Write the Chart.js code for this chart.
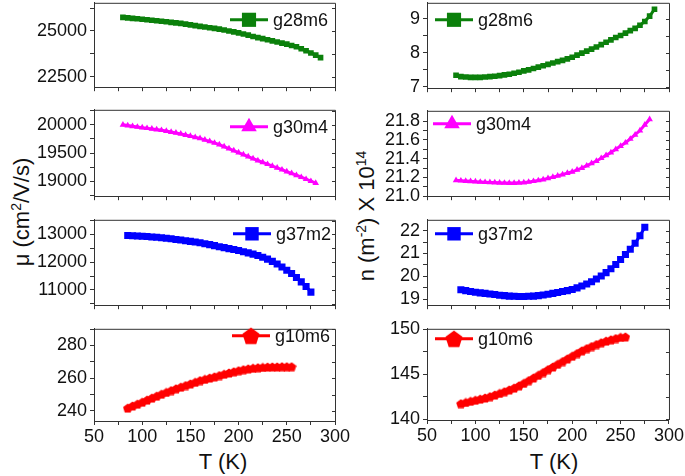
<!DOCTYPE html>
<html>
<head>
<meta charset="utf-8">
<script src="https://cdn.jsdelivr.net/npm/chart.js@4.4.1/dist/chart.umd.min.js"></script>
<style>
  body { margin: 0; background: #fff; }
  #fig { position: relative; width: 685px; height: 476px; overflow: hidden;
         font-family: "Liberation Sans", Arial, sans-serif; color: #111; }
  #fig canvas { position: absolute; }
  .title { position: absolute; font-size: 22px; white-space: nowrap; line-height: 1; }
  .rot { transform: translate(-50%, -50%) rotate(-90deg); }
  .mid { transform: translate(-50%, -50%); }
  .title sup { font-size: 14px; vertical-align: 0.6em; line-height: 0; }
</style>
</head>
<body>
<div id="fig">
  <div class="title rot" style="left:22px;top:212px">μ (cm<sup>2</sup>/V/s)</div>
  <div class="title rot" style="left:367px;top:216px">n (m<sup>-2</sup>) X 10<sup>14</sup></div>
  <div class="title mid" style="left:223px;top:462px">T (K)</div>
  <div class="title mid" style="left:554px;top:462px">T (K)</div>
</div>
<script>
// temperatures (K) for each sample
const T_G28 = [80, 85, 90, 95, 100, 105, 110, 115, 120, 125, 130, 135, 140, 145, 150, 155, 160, 165, 170, 175,
  180, 185, 190, 195, 200, 205, 210, 215, 220, 225, 230, 235, 240, 245, 250, 255, 260, 265, 270, 275, 280, 285];
const T_G30 = [80, 85, 90, 95, 100, 105, 110, 115, 120, 125, 130, 135, 140, 145, 150, 155, 160, 165, 170, 175,
  180, 185, 190, 195, 200, 205, 210, 215, 220, 225, 230, 235, 240, 245, 250, 255, 260, 265, 270, 275, 280];
const T_G37 = [85, 90, 95, 100, 105, 110, 115, 120, 125, 130, 135, 140, 145, 150, 155, 160, 165, 170, 175,
  180, 185, 190, 195, 200, 205, 210, 215, 220, 225, 230, 235, 240, 245, 250, 255, 260, 265, 270, 275];
const T_G10 = [85, 90, 95, 100, 105, 110, 115, 120, 125, 130, 135, 140, 145, 150, 155, 160, 165, 170, 175,
  180, 185, 190, 195, 200, 205, 210, 215, 220, 225, 230, 235, 240, 245, 250, 255];

// mobility, cm2/V/s
const MU_G28 = [25740, 25715, 25690, 25665, 25640, 25612, 25585, 25558, 25530, 25500, 25470, 25440, 25410,
  25370, 25330, 25290, 25250, 25215, 25175, 25140, 25100, 25050, 25000, 24950, 24900, 24835, 24770, 24700,
  24640, 24580, 24520, 24460, 24400, 24340, 24280, 24210, 24140, 24030, 23920, 23800, 23680, 23550];
const MU_G30 = [20000, 19988, 19975, 19962, 19950, 19940, 19928, 19917, 19905, 19890, 19873, 19857, 19840,
  19820, 19800, 19780, 19760, 19735, 19707, 19680, 19650, 19615, 19580, 19545, 19510, 19475, 19440, 19405,
  19370, 19338, 19305, 19272, 19240, 19208, 19175, 19142, 19110, 19075, 19040, 19005, 18970];
const MU_G37 = [12965, 12957, 12948, 12938, 12925, 12912, 12897, 12880, 12862, 12843, 12822, 12800, 12776,
  12752, 12727, 12700, 12667, 12633, 12597, 12560, 12525, 12490, 12455, 12420, 12378, 12335, 12290, 12240,
  12180, 12110, 12030, 11935, 11825, 11710, 11590, 11450, 11290, 11120, 10920];
const MU_G10 = [241.7, 243.0, 244.1, 245.3, 246.6, 247.8, 249.0, 250.2, 251.3, 252.4, 253.5, 254.5, 255.5,
  256.5, 257.5, 258.5, 259.3, 260.1, 260.8, 261.6, 262.4, 263.2, 263.9, 264.6, 265.2, 265.7, 266.1, 266.4,
  266.6, 266.8, 266.9, 266.9, 267.0, 267.0, 267.0];

// carrier density, 1e14 m^-2
const N_G28 = [7.34, 7.30, 7.29, 7.28, 7.28, 7.28, 7.29, 7.30, 7.31, 7.33, 7.35, 7.37, 7.40, 7.43, 7.47,
  7.50, 7.54, 7.58, 7.62, 7.66, 7.70, 7.74, 7.78, 7.82, 7.87, 7.93, 7.99, 8.05, 8.11, 8.17, 8.24, 8.31,
  8.38, 8.45, 8.51, 8.58, 8.65, 8.72, 8.81, 8.92, 9.08, 9.28];
const N_G30 = [21.170, 21.165, 21.161, 21.158, 21.155, 21.152, 21.149, 21.147, 21.145, 21.143, 21.141,
  21.140, 21.140, 21.142, 21.146, 21.152, 21.160, 21.168, 21.178, 21.190, 21.203, 21.217, 21.231, 21.246,
  21.260, 21.280, 21.300, 21.325, 21.350, 21.375, 21.405, 21.435, 21.465, 21.500, 21.535, 21.570, 21.610,
  21.655, 21.700, 21.760, 21.820];
const N_G37 = [19.41, 19.37, 19.33, 19.30, 19.27, 19.25, 19.22, 19.20, 19.17, 19.15, 19.13, 19.12, 19.11,
  19.11, 19.12, 19.13, 19.15, 19.18, 19.21, 19.25, 19.29, 19.33, 19.37, 19.42, 19.49, 19.57, 19.66, 19.76,
  19.88, 20.01, 20.16, 20.33, 20.52, 20.74, 20.96, 21.19, 21.45, 21.78, 22.15];
const N_G10 = [141.72, 141.85, 141.98, 142.10, 142.23, 142.35, 142.50, 142.68, 142.86, 143.05, 143.25,
  143.45, 143.70, 143.98, 144.28, 144.58, 144.88, 145.18, 145.50, 145.80, 146.10, 146.40, 146.70, 147.00,
  147.30, 147.60, 147.85, 148.08, 148.30, 148.50, 148.68, 148.83, 148.97, 149.10, 149.15];

// ticks (every tick mark; only the "major" ones get a label)
const X_TICKS = [50, 75, 100, 125, 150, 175, 200, 225, 250, 275, 300];
const MU1_TICKS = [22500, 23750, 25000, 26250];
const MU2_TICKS = [18750, 19000, 19250, 19500, 19750, 20000, 20250];
const MU3_TICKS = [10500, 11000, 11500, 12000, 12500, 13000, 13500];
const MU4_TICKS = [240, 250, 260, 270, 280, 290];
const N1_TICKS = [7, 7.5, 8, 8.5, 9];
const N2_TICKS = [21.0, 21.1, 21.2, 21.3, 21.4, 21.5, 21.6, 21.7, 21.8];
const N3_TICKS = [19, 19.5, 20, 20.5, 21, 21.5, 22];
const N4_TICKS = [140, 142.5, 145, 147.5, 150];

const GREEN = '#0b800b', MAGENTA = '#ff00ff', BLUE = '#0000ff', RED = '#ff0000';

Chart.defaults.font.family = '"Liberation Sans", Arial, sans-serif';
Chart.defaults.color = '#111';

function pentagon(size, color) {
  const c = document.createElement('canvas');
  c.width = c.height = size;
  const g = c.getContext('2d');
  const r = size / 2;
  const cy = r + (r - r * Math.cos(Math.PI / 5)) / 2;
  g.fillStyle = color;
  g.beginPath();
  for (let i = 0; i < 5; i++) {
    const a = -Math.PI / 2 + i * 2 * Math.PI / 5;
    g.lineTo(r + r * Math.cos(a), cy + r * Math.sin(a));
  }
  g.closePath();
  g.fill();
  return c;
}
const PENT_S = pentagon(10, RED);
const PENT_L = pentagon(18, RED);

// draws the box frame plus inward ticks on the right edge
const framePlugin = {
  id: 'frame',
  afterDraw(chart) {
    const { ctx, chartArea: a, scales } = chart;
    ctx.save();
    ctx.strokeStyle = '#333';
    ctx.lineWidth = 1;
    ctx.beginPath();
    ctx.moveTo(a.left, a.top + 0.5); ctx.lineTo(a.right + 0.5, a.top + 0.5);
    ctx.lineTo(a.right + 0.5, a.bottom);
    scales.y.ticks.forEach(t => {
      const y = Math.round(scales.y.getPixelForValue(t.value)) + 0.5;
      ctx.moveTo(a.right, y); ctx.lineTo(a.right - 3, y);
    });
    ctx.stroke();
    ctx.restore();
  },
};

// legend entry drawn as line + marker + name
const lineLegend = {
  id: 'lineLegend',
  afterDraw(chart, args, o) {
    const { ctx, chartArea: a } = chart;
    const ds = chart.data.datasets[0];
    const x = a.left + o.x, y = a.top + o.y;
    ctx.save();
    ctx.strokeStyle = ds.borderColor;
    ctx.fillStyle = ds.borderColor;
    ctx.lineWidth = 3;
    ctx.beginPath();
    ctx.moveTo(x, y); ctx.lineTo(x + 38, y);
    ctx.stroke();
    Chart.helpers.drawPoint(ctx, { pointStyle: o.style, radius: o.r, rotation: 0, borderWidth: 0 }, x + 19, y);
    ctx.fillStyle = '#111';
    ctx.font = '18px "Liberation Sans", Arial, sans-serif';
    ctx.textBaseline = 'middle';
    ctx.fillText(ds.label, x + 43, y + 1);
    ctx.restore();
  },
};

const COLS = [
  { left: 0, width: 365, yW: 94, plotR: 335 },
  { left: 345, width: 340, yW: 82, plotR: 669 },
];

const PANELS = [
  { col: 0, top: 1, bottom: 93, T: T_G28, V: MU_G28, color: GREEN, style: 'rect', r: 4, min: 21935, max: 26535,
    ticks: MU1_TICKS, major: 2500, dec: 0, name: 'g28m6', lg: { x: 136, y: 17, style: 'rect', r: 10 } },
  { col: 0, top: 108, bottom: 202, T: T_G30, V: MU_G30, color: MAGENTA, style: 'triangle', r: 3.8, min: 18740, max: 20265,
    ticks: MU2_TICKS, major: 500, dec: 0, name: 'g30m4', lg: { x: 136, y: 17, style: 'triangle', r: 9 } },
  { col: 0, top: 218, bottom: 311, T: T_G37, V: MU_G37, color: BLUE, style: 'rect', r: 5, min: 10447, max: 13530,
    ticks: MU3_TICKS, major: 1000, dec: 0, name: 'g37m2', lg: { x: 139, y: 14, style: 'rect', r: 9.5 } },
  { col: 0, top: 327, bottom: 421, T: T_G10, V: MU_G10, color: RED, style: PENT_S, r: 4, min: 233.8, max: 290.2,
    ticks: MU4_TICKS, major: 20, dec: 0, name: 'g10m6', lg: { x: 138, y: 7, style: PENT_L, r: 9 }, xLabels: true },
  { col: 1, top: 1, bottom: 94, T: T_G28, V: N_G28, color: GREEN, style: 'rect', r: 4, min: 6.96, max: 9.47,
    ticks: N1_TICKS, major: 1, dec: 0, name: 'g28m6', lg: { x: 8, y: 17, style: 'rect', r: 10 } },
  { col: 1, top: 109, bottom: 202, T: T_G30, V: N_G30, color: MAGENTA, style: 'triangle', r: 3.8, min: 21.0, max: 21.91,
    ticks: N2_TICKS, major: 0.2, dec: 1, name: 'g30m4', lg: { x: 6, y: 13, style: 'triangle', r: 9 } },
  { col: 1, top: 218, bottom: 311, T: T_G37, V: N_G37, color: BLUE, style: 'rect', r: 5, min: 18.73, max: 22.48,
    ticks: N3_TICKS, major: 1, dec: 0, name: 'g37m2', lg: { x: 8, y: 14, style: 'rect', r: 9.5 } },
  { col: 1, top: 327, bottom: 420, T: T_G10, V: N_G10, color: RED, style: PENT_S, r: 4, min: 139.9, max: 150.05,
    ticks: N4_TICKS, major: 5, dec: 0, name: 'g10m6', lg: { x: 8, y: 10, style: PENT_L, r: 9 }, xLabels: true },
];

const isMajor = (v, step) => Math.abs(v / step - Math.round(v / step)) < 1e-6;
const fig = document.getElementById('fig');

PANELS.forEach(p => {
  const col = COLS[p.col];
  const padTop = 12;
  const xH = p.xLabels ? 30 : 8;
  const canvas = document.createElement('canvas');
  canvas.width = col.width;
  canvas.height = (p.bottom - p.top) + padTop + xH;
  canvas.style.left = col.left + 'px';
  canvas.style.top = (p.top - padTop) + 'px';
  fig.appendChild(canvas);

  const axisCommon = {
    border: { display: true, color: '#333', width: 1 },
    grid: { drawOnChartArea: false, drawTicks: true, tickLength: 4, color: '#333' },
  };

  new Chart(canvas, {
    type: 'line',
    data: {
      datasets: [{
        label: p.name,
        data: p.T.map((t, i) => ({ x: t, y: p.V[i] })),
        borderColor: p.color,
        backgroundColor: p.color,
        borderWidth: 3,
        pointStyle: p.style,
        pointRadius: p.r,
        pointBorderWidth: 0,
        pointBackgroundColor: p.color,
        tension: 0,
      }],
    },
    options: {
      responsive: false,
      animation: false,
      events: [],
      layout: { padding: { top: padTop, right: col.left + col.width - col.plotR, left: 0, bottom: 0 } },
      plugins: {
        legend: { display: false },
        tooltip: { enabled: false },
        lineLegend: p.lg,
      },
      scales: {
        x: {
          ...axisCommon,
          type: 'linear',
          min: 50,
          max: 300,
          afterBuildTicks: s => { s.ticks = X_TICKS.map(v => ({ value: v })); },
          afterFit: s => { s.height = xH; },
          ticks: {
            autoSkip: false,
            maxRotation: 0,
            padding: 1,
            font: { size: 18 },
            callback: v => (p.xLabels && isMajor(v, 50)) ? String(v) : '',
          },
        },
        y: {
          ...axisCommon,
          min: p.min,
          max: p.max,
          afterBuildTicks: s => { s.ticks = p.ticks.map(v => ({ value: v })); },
          afterFit: s => { s.width = col.yW; },
          ticks: {
            autoSkip: false,
            padding: 3,
            font: { size: 18 },
            callback: v => isMajor(v, p.major) ? v.toFixed(p.dec) : '',
          },
        },
      },
    },
    plugins: [framePlugin, lineLegend],
  });
});
</script>
</body>
</html>
